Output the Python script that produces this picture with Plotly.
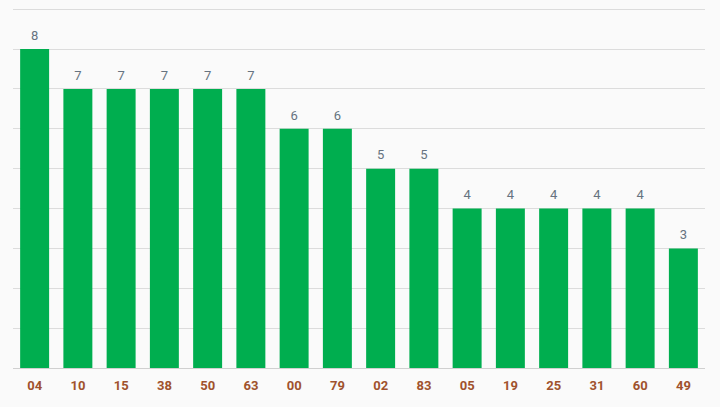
import plotly.graph_objects as go

categories = ["04", "10", "15", "38", "50", "63", "00", "79", "02", "83", "05", "19", "25", "31", "60", "49"]
values = [8, 7, 7, 7, 7, 7, 6, 6, 5, 5, 4, 4, 4, 4, 4, 3]

fig = go.Figure()
fig.add_trace(go.Bar(
    x=categories, y=values,
    marker=dict(color="#00ae4f", line=dict(width=0)),
    hoverinfo="x+y",
))
fig.add_trace(go.Scatter(
    x=categories, y=values, mode="markers+text", text=[str(v) for v in values],
    textposition="top center", cliponaxis=False, hoverinfo="skip",
    marker=dict(size=8, color="rgba(0,0,0,0)"),
    textfont=dict(family="Roboto", size=13, color="#667380"),
))
fig.update_layout(
    width=720, height=407,
    margin=dict(l=13, r=15, t=8, b=39),
    paper_bgcolor="#fafafa", plot_bgcolor="#fafafa",
    bargap=0.33, showlegend=False,
    xaxis=dict(type="category", range=[-0.5, len(categories) - 0.5],
               tickfont=dict(family="Roboto", size=13, color="#a0522d", weight="bold"),
               showgrid=False, ticks="outside", ticklen=5, tickcolor="rgba(0,0,0,0)",
               showline=True, linecolor="#d0d0d0", linewidth=1),
    yaxis=dict(range=[0, 9.03], dtick=1, showticklabels=False, gridcolor="#dcdcdc", gridwidth=1,
               zeroline=False, showline=False),
)
fig.write_html("out.html", config={"displayModeBar": False},
               post_script="document.body.style.margin='0';")
